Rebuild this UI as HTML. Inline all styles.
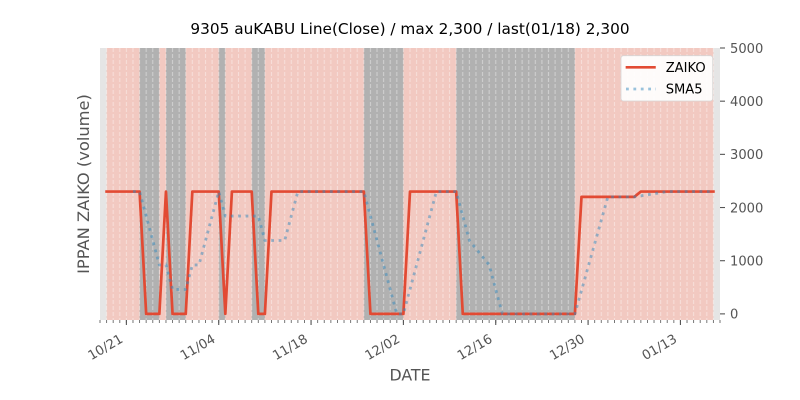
<!DOCTYPE html>
<html>
<head>
<meta charset="utf-8">
<style>
html,body{margin:0;padding:0;background:#fff;}
svg{display:block;}
text{font-family:"DejaVu Sans","Liberation Sans",sans-serif;}
</style>
</head>
<body>
<svg width="800" height="400" viewBox="0 0 800 400" xmlns="http://www.w3.org/2000/svg">
<defs>
  <pattern id="grid" x="96.702" y="48" width="6.595745" height="6" patternUnits="userSpaceOnUse">
    <rect x="2.748" y="0" width="1.1" height="4" fill="#ffffff" fill-opacity="0.38"/>
  </pattern>
  <pattern id="mtick" x="96.702" y="320" width="6.595745" height="3" patternUnits="userSpaceOnUse">
    <rect x="2.898" y="0" width="0.8" height="3" fill="#555555"/>
  </pattern>
</defs>
<rect width="800" height="400" fill="#ffffff"/>

<!-- axes background -->
<rect x="100" y="48" width="620" height="272" fill="#E5E5E5"/>
<!-- pink span -->
<rect x="106.6" y="48" width="606.8" height="272" fill="#F2C9C1"/>
<!-- gray spans -->
<g fill="#B1B1B1">
  <rect x="139.57" y="48" width="19.79" height="272"/>
  <rect x="165.96" y="48" width="19.78" height="272"/>
  <rect x="218.72" y="48" width="6.60" height="272"/>
  <rect x="251.70" y="48" width="13.19" height="272"/>
  <rect x="363.83" y="48" width="39.57" height="272"/>
  <rect x="456.17" y="48" width="118.72" height="272"/>
</g>
<!-- daily dashed grid -->
<rect x="101" y="48" width="618" height="272" fill="url(#grid)"/>

<!-- ZAIKO -->
<polyline fill="none" stroke="#E24A33" stroke-width="2.7" stroke-linejoin="round" stroke-linecap="square"
 points="106.60,191.58 139.57,191.58 146.17,313.88 159.36,313.88 165.96,191.58 172.55,313.88 185.74,313.88 192.34,191.58 218.72,191.58 225.32,313.88 231.91,191.58 251.70,191.58 258.30,313.88 264.89,313.88 271.49,191.58 363.83,191.58 370.43,313.88 403.40,313.88 410.00,191.58 456.17,191.58 462.77,313.88 574.89,313.88 581.49,196.89 634.26,196.89 640.85,191.58 713.40,191.58"/>

<!-- SMA5 -->
<polyline fill="none" stroke="#348ABD" stroke-opacity="0.5" stroke-width="2.8" stroke-dasharray="2.8 4.6" stroke-linejoin="round"
 points="132.98,191.58 139.57,191.58 146.17,216.04 152.77,240.50 159.36,264.96 165.96,264.96 172.55,289.42 185.74,289.42 192.34,264.96 198.94,264.96 205.53,240.50 212.13,216.04 218.72,191.58 225.32,216.04 258.30,216.04 264.89,240.50 284.68,240.50 291.28,216.04 297.87,191.58 363.83,191.58 370.43,216.04 377.02,240.50 383.62,264.96 390.21,289.42 396.81,313.88 403.40,313.88 410.00,289.42 416.60,264.96 423.19,240.50 429.79,216.04 436.38,191.58 456.17,191.58 462.77,216.04 469.36,240.50 489.15,264.96 495.74,289.42 502.34,313.88 574.89,313.88 581.49,290.49 588.09,267.09 594.68,243.69 601.28,220.29 607.87,196.89 634.26,196.89 640.85,195.83 647.45,194.77 654.04,193.71 660.64,192.64 667.23,191.58 713.40,191.58"/>

<!-- x minor ticks -->
<rect x="99" y="320" width="622" height="3" fill="url(#mtick)"/>
<!-- x major ticks -->
<g stroke="#555555" stroke-width="1.1">
  <line x1="126.38" y1="320" x2="126.38" y2="325"/>
  <line x1="218.72" y1="320" x2="218.72" y2="325"/>
  <line x1="311.06" y1="320" x2="311.06" y2="325"/>
  <line x1="403.40" y1="320" x2="403.40" y2="325"/>
  <line x1="495.74" y1="320" x2="495.74" y2="325"/>
  <line x1="588.09" y1="320" x2="588.09" y2="325"/>
  <line x1="680.43" y1="320" x2="680.43" y2="325"/>
</g>
<!-- x tick labels -->
<g fill="#555555" font-size="13.1" text-anchor="end">
  <text transform="translate(123.9,341.5) rotate(-30)">10/21</text>
  <text transform="translate(216.2,341.5) rotate(-30)">11/04</text>
  <text transform="translate(308.6,341.5) rotate(-30)">11/18</text>
  <text transform="translate(400.9,341.5) rotate(-30)">12/02</text>
  <text transform="translate(493.2,341.5) rotate(-30)">12/16</text>
  <text transform="translate(585.6,341.5) rotate(-30)">12/30</text>
  <text transform="translate(677.9,341.5) rotate(-30)">01/13</text>
</g>

<!-- y ticks right -->
<g stroke="#555555" stroke-width="1.1">
  <line x1="720" y1="48" x2="725" y2="48"/>
  <line x1="720" y1="101.18" x2="725" y2="101.18"/>
  <line x1="720" y1="154.35" x2="725" y2="154.35"/>
  <line x1="720" y1="207.53" x2="725" y2="207.53"/>
  <line x1="720" y1="260.71" x2="725" y2="260.71"/>
  <line x1="720" y1="313.88" x2="725" y2="313.88"/>
</g>
<g fill="#555555" font-size="13.1">
  <text x="730" y="52.8">5000</text>
  <text x="730" y="105.9">4000</text>
  <text x="730" y="159.1">3000</text>
  <text x="730" y="212.3">2000</text>
  <text x="730" y="265.5">1000</text>
  <text x="730" y="318.7">0</text>
</g>

<!-- labels -->
<text x="410" y="34" font-size="15.3" fill="#000000" text-anchor="middle">9305 auKABU Line(Close) / max 2,300 / last(01/18) 2,300</text>
<text x="410" y="380.5" font-size="15.8" fill="#555555" text-anchor="middle">DATE</text>
<text transform="translate(89,184) rotate(-90)" font-size="16.3" fill="#555555" text-anchor="middle">IPPAN ZAIKO (volume)</text>

<!-- legend -->
<rect x="621" y="55.7" width="91.7" height="45.3" rx="2.5" ry="2.5" fill="#ffffff" fill-opacity="0.92" stroke="#d6d6d6" stroke-width="0.8"/>
<line x1="627" y1="67.3" x2="654.4" y2="67.3" stroke="#E24A33" stroke-width="2.7" stroke-linecap="square"/>
<text x="665.7" y="72" font-size="13.1" fill="#000000">ZAIKO</text>
<line x1="626" y1="89" x2="656" y2="89" stroke="#348ABD" stroke-opacity="0.5" stroke-width="2.8" stroke-dasharray="2.8 4.6"/>
<text x="665.7" y="93.7" font-size="13.1" fill="#000000">SMA5</text>
</svg>
</body>
</html>
